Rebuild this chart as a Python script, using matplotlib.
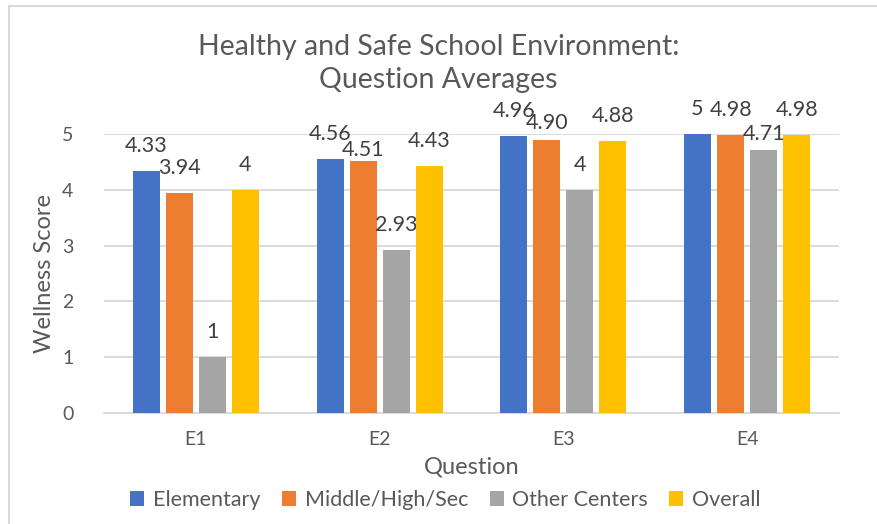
import matplotlib
matplotlib.use("Agg")
import matplotlib.pyplot as plt
from matplotlib.lines import Line2D
import numpy as np

categories = ["E1", "E2", "E3", "E4"]
series_names = ["Elementary", "Middle/High/Sec", "Other Centers", "Overall"]
elementary = [4.33, 4.56, 4.96, 5.00]
middle_high_sec = [3.94, 4.51, 4.90, 4.98]
other_centers = [1.00, 2.93, 4.00, 4.71]
overall = [4.00, 4.43, 4.88, 4.98]
label_text = [
    ["4.33", "4.56", "4.96", "5"],
    ["3.94", "4.51", "4.90", "4.98"],
    ["1", "2.93", "4", "4.71"],
    ["4", "4.43", "4.88", "4.98"],
]
yticks = [0, 1, 2, 3, 4, 5]

# style: data labels the reference places lower to avoid neighbours (series, category) -> points
label_nudge = {(1, 1): -9.5, (1, 2): -6, (2, 3): -6}

colors = ["#4472C4", "#ED7D31", "#A5A5A5", "#FFC000"]
txt = "#595959"
plt.rcParams['font.family'] = ['Lato', 'DejaVu Sans']

fig = plt.figure(figsize=(8.77, 5.24), dpi=100)
ax = fig.add_axes([104/877, 1-413/524, (839-104)/877, (413-134)/524])

x = np.arange(len(categories))
step = 0.18
width = 0.147
all_series = [elementary, middle_high_sec, other_centers, overall]
for i, (vals, name) in enumerate(zip(all_series, series_names)):
    pos = x + (i - 1.5) * step
    bars = ax.bar(pos, vals, width=width, color=colors[i], label=name, zorder=3)
    for j, (b, t) in enumerate(zip(bars, label_text[i])):
        dy = 18 + label_nudge.get((i, j), 0)
        ax.annotate(t, (b.get_x() + b.get_width()/2, b.get_height()),
                    xytext=(0, dy), textcoords="offset points",
                    ha="center", va="center", fontsize=15.5, color="#404040")

ax.set_xlim(-0.5, 3.5)
ax.set_ylim(0, 5)
ax.set_yticks(yticks)
ax.set_xticks(x)
ax.set_xticklabels(categories)
ax.tick_params(axis='both', length=0, labelsize=14, colors=txt)
ax.tick_params(axis='y', pad=22)
ax.tick_params(axis='x', pad=13)
ax.grid(axis='y', color="#D9D9D9", linewidth=1.3, zorder=0)
for s in ["top", "right", "left"]:
    ax.spines[s].set_visible(False)
ax.spines["bottom"].set_color("#D9D9D9")
ax.spines["bottom"].set_linewidth(1.3)

ax.set_ylabel("Wellness Score", fontsize=17, color=txt, labelpad=5)
ax.set_xlabel("Question", fontsize=17, color=txt, labelpad=6)

fig.text(0.5, 1-47/524, "Healthy and Safe School Environment:", ha="center", va="center",
         fontsize=20.5, color=txt)
fig.text(0.5, 1-80/524, "Question Averages", ha="center", va="center",
         fontsize=20.5, color=txt)

leg = fig.legend(loc="center", bbox_to_anchor=(0.508, 1-500/524), ncol=4, frameon=False,
                 fontsize=15.5, handlelength=0.65, handleheight=0.65, handletextpad=0.4,
                 columnspacing=1.0)
for t in leg.get_texts():
    t.set_color(txt)

# chart border (top and left edges visible)
fig.add_artist(Line2D([8.5/877, 1], [1-6/524, 1-6/524], transform=fig.transFigure,
                      color="#D9D9D9", linewidth=1.5))
fig.add_artist(Line2D([8.5/877, 8.5/877], [0, 1-6/524], transform=fig.transFigure,
                      color="#D9D9D9", linewidth=1.5))

fig.savefig("out.png", dpi=100)
